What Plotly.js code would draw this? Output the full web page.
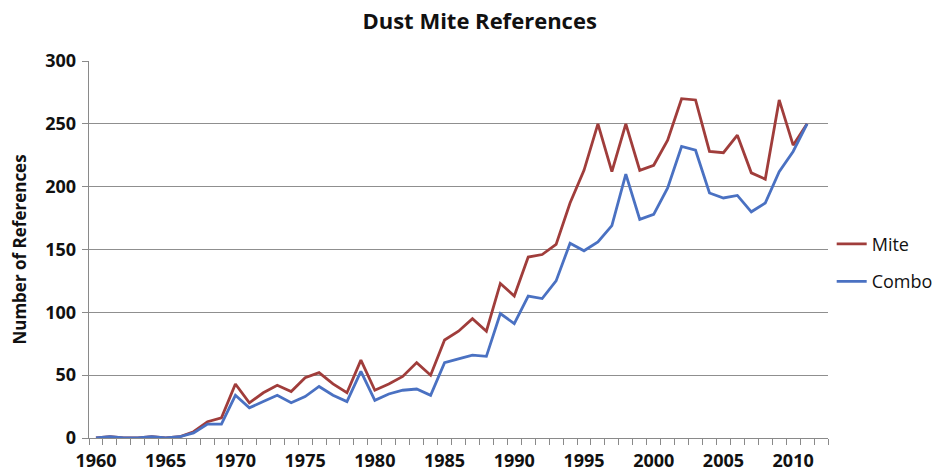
<!DOCTYPE html>
<html>
<head>
<meta charset="utf-8">
<script src="https://cdn.plot.ly/plotly-3.0.1.min.js"></script>
<style>
html,body{margin:0;padding:0;background:#fff;}
#chart{width:935px;height:474px;}
</style>
</head>
<body>
<div id="chart"></div>
<script>
const years = [1960,1961,1962,1963,1964,1965,1966,1967,1968,1969,
  1970,1971,1972,1973,1974,1975,1976,1977,1978,1979,
  1980,1981,1982,1983,1984,1985,1986,1987,1988,1989,
  1990,1991,1992,1993,1994,1995,1996,1997,1998,1999,
  2000,2001,2002,2003,2004,2005,2006,2007,2008,2009,
  2010,2011];
const mite = [0,1,0,0,1,0,1,5,13,16,
  43,28,36,42,37,48,52,43,36,62,
  38,43,49,60,50,78,85,95,85,123,
  113,144,146,154,187,213,250,212,250,213,
  217,237,270,269,228,227,241,211,206,269,
  233,250];
const combo = [0,1,0,0,1,0,1,4,11,11,
  34,24,29,34,28,33,41,34,29,53,
  30,35,38,39,34,60,63,66,65,99,
  91,113,111,125,155,149,156,169,210,174,
  178,199,232,229,195,191,193,180,187,212,
  228,250];
const seriesNames = ["Mite","Combo"];
const seriesColors = ["#A03D3B","#4A71C2"];
const chartTitle = "Dust Mite References";
const yTitle = "Number of References";

const font = "'Open Sans', 'Liberation Sans', sans-serif";

const traces = [mite, combo].map((vals, i) => ({
  x: years, y: vals, type: 'scatter', mode: 'lines',
  name: seriesNames[i], legendgroup: 'g' + i,
  line: {color: seriesColors[i], width: 2.8},
  hoverinfo: 'x+y'
}));

const layout = {
  width: 935, height: 474,
  margin: {l: 89, r: 107, t: 61, b: 36, autoexpand: false},
  paper_bgcolor: '#ffffff', plot_bgcolor: '#ffffff',
  font: {family: font, color: '#111'},
  title: {text: '<b>' + chartTitle + '</b>', x: 0.513, xanchor: 'center', y: 0.955, yanchor: 'middle',
          font: {size: 22, family: font, color: '#111'}},
  showlegend: true,
  legend: {x: 1.005, xanchor: 'left', y: 0.465, yanchor: 'middle',
           font: {size: 18, family: font, color: '#111'},
           tracegroupgap: 11, traceorder: 'grouped',
           bgcolor: 'rgba(0,0,0,0)'},
  xaxis: {
    range: [1959.5, 2012.5], tick0: 1960, dtick: 5, ticks: '', showgrid: false,
    zeroline: false, showline: true, linecolor: '#8a8a8a', linewidth: 1.3,
    tickfont: {size: 18, family: font, color: '#111', weight: 'bold'}, ticklabelstandoff: 6,
    tickformat: 'd', automargin: false,
    minor: {tick0: 1959.5, dtick: 1, ticks: 'outside', ticklen: 6, tickcolor: '#8a8a8a', tickwidth: 1, showgrid: false}
  },
  yaxis: {
    range: [0, 300], dtick: 50, tick0: 0, ticks: 'outside', ticklen: 6, tickcolor: '#8a8a8a',
    showgrid: true, gridcolor: '#8f8f8f', gridwidth: 1.2, zeroline: false,
    showline: true, linecolor: '#8a8a8a', linewidth: 1.3, automargin: false,
    tickfont: {size: 18, family: font, color: '#111', weight: 'bold'}, ticklabelstandoff: 2,
    title: {text: '<b>' + yTitle + '</b>', font: {size: 17, family: font, color: '#111'}, standoff: 14}
  }
};

Plotly.newPlot('chart', traces, layout, {displayModeBar: false, staticPlot: true});
</script>
</body>
</html>
